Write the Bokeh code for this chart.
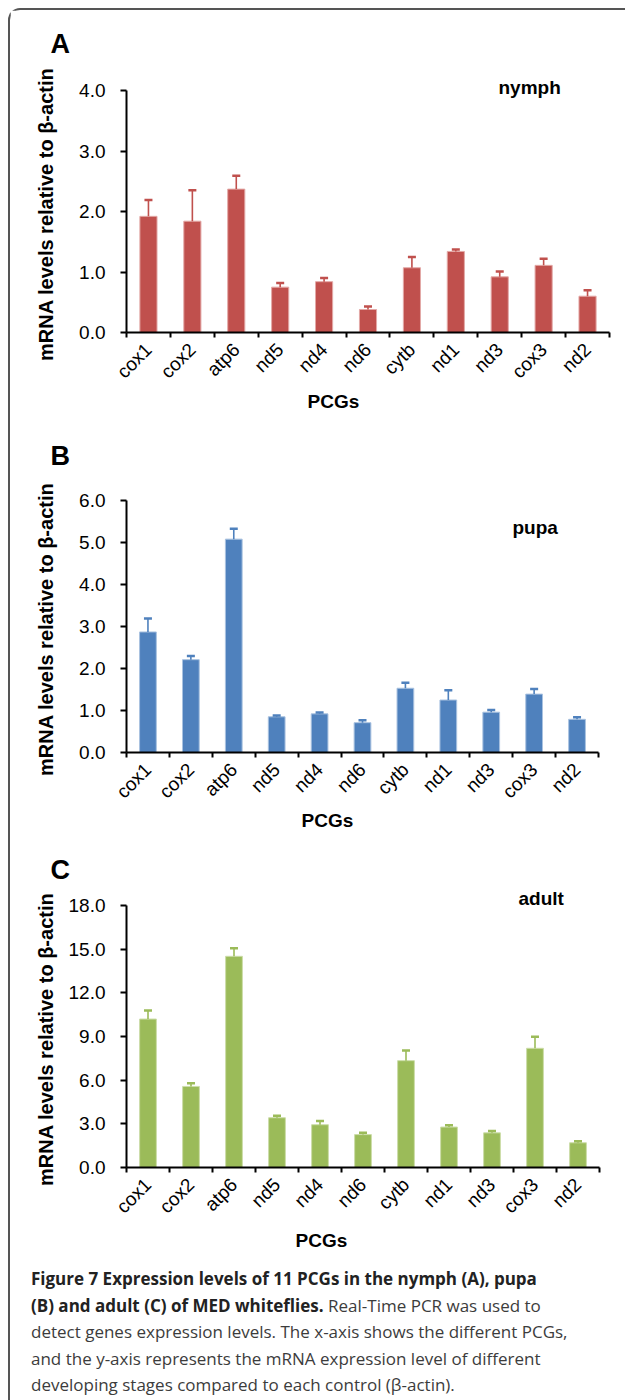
import math
from bokeh.plotting import figure
from bokeh.models import (ColumnDataSource, Whisker, TeeHead, Label, FixedTicker,
                          NumeralTickFormatter, LinearAxis, Range1d, Title, Div)
from bokeh.layouts import column
from bokeh.embed import file_html
from bokeh.resources import INLINE

# ---------------- data ----------------
genes = ["cox1", "cox2", "atp6", "nd5", "nd4", "nd6", "cytb", "nd1", "nd3", "cox3", "nd2"]

nymph_mean = [1.92, 1.84, 2.37, 0.75, 0.84, 0.38, 1.07, 1.34, 0.92, 1.11, 0.60]
nymph_err = [0.27, 0.51, 0.22, 0.07, 0.06, 0.05, 0.18, 0.03, 0.09, 0.11, 0.10]

pupa_mean = [2.87, 2.21, 5.08, 0.85, 0.92, 0.71, 1.53, 1.25, 0.96, 1.39, 0.79]
pupa_err = [0.32, 0.09, 0.25, 0.03, 0.03, 0.06, 0.13, 0.23, 0.05, 0.12, 0.05]

adult_mean = [10.20, 5.57, 14.51, 3.42, 2.94, 2.26, 7.34, 2.78, 2.38, 8.19, 1.70]
adult_err = [0.58, 0.21, 0.55, 0.14, 0.25, 0.12, 0.69, 0.12, 0.12, 0.80, 0.11]

nymph_ticks = [0.0, 1.0, 2.0, 3.0, 4.0]
pupa_ticks = [0.0, 1.0, 2.0, 3.0, 4.0, 5.0, 6.0]
adult_ticks = [0.0, 3.0, 6.0, 9.0, 12.0, 15.0, 18.0]

y_title = "mRNA  levels relative to \u03b2-actin"
x_title = "PCGs"

caption_bold = ["Figure 7 Expression levels of 11 PCGs in the nymph (A), pupa",
                "(B) and adult (C) of MED whiteflies."]
caption_regular = ["Real-Time PCR was used to",
                   "detect genes expression levels. The x-axis shows the different PCGs,",
                   "and the y-axis represents the mRNA expression level of different",
                   "developing stages compared to each control (\u03b2-actin)."]

FONT = "Liberation Sans"


def panel(letter, stage, mean, err, ticks, color, edge, frame_w, frame_h,
          mb_top, mb_bottom, stage_offset, stage_standoff, stage_label_y,
          spacer_standoff, pcgs_offset, pcgs_standoff, ylabel_standoff):
    xs = [i + 0.5 for i in range(len(genes))]
    src = ColumnDataSource(dict(x=xs, gene=genes, top=mean,
                                upper=[m + e for m, e in zip(mean, err)]))
    p = figure(frame_width=frame_w, frame_height=frame_h,
               x_range=Range1d(0, len(genes)), y_range=Range1d(ticks[0], ticks[-1]),
               x_axis_type=None, y_axis_type=None,
               output_backend="svg", toolbar_location=None,
               min_border_left=116, min_border_right=615 - 116 - frame_w,
               min_border_top=mb_top, min_border_bottom=mb_bottom)
    p.outline_line_color = None
    p.background_fill_color = "white"
    p.border_fill_color = "white"

    p.vbar(x="x", top="top", bottom=0, width=0.39, source=src,
           fill_color=color, line_color=edge, line_width=1)
    w = Whisker(source=src, base="x", upper="upper", lower="top",
                line_color=color, line_width=1.6,
                upper_head=TeeHead(size=8, line_color=color, line_width=2.5),
                lower_head=None, level="glyph")
    p.add_layout(w)

    xaxis = LinearAxis(ticker=FixedTicker(ticks=xs, minor_ticks=list(range(len(genes) + 1))),
                       major_label_overrides={x: g for x, g in zip(xs, genes)})
    xaxis.major_tick_out = 0
    xaxis.major_tick_in = 0
    xaxis.minor_tick_out = 5
    xaxis.minor_tick_in = 0
    xaxis.minor_tick_line_width = 2
    xaxis.minor_tick_line_color = "black"
    xaxis.axis_line_width = 2
    xaxis.axis_line_color = "black"
    xaxis.major_label_orientation = math.pi / 4
    xaxis.major_label_text_font = FONT
    xaxis.major_label_text_font_size = "19px"
    xaxis.major_label_text_color = "black"
    xaxis.major_label_standoff = 9
    p.add_layout(xaxis, "below")

    yaxis = LinearAxis(ticker=FixedTicker(ticks=ticks),
                       formatter=NumeralTickFormatter(format="0.0"),
                       axis_label=y_title)
    yaxis.major_tick_out = 6
    yaxis.major_tick_in = 0
    yaxis.major_tick_line_width = 2
    yaxis.axis_line_width = 2
    yaxis.axis_line_color = "black"
    yaxis.major_label_text_font = FONT
    yaxis.major_label_text_font_size = "19px"
    yaxis.major_label_text_color = "black"
    yaxis.major_label_standoff = 15
    yaxis.axis_label_text_font = FONT
    yaxis.axis_label_text_font_size = "20px"
    yaxis.axis_label_text_font_style = "bold"
    yaxis.axis_label_text_color = "black"
    yaxis.axis_label_standoff = ylabel_standoff
    p.add_layout(yaxis, "left")

    # stage name: title straddling the frame top, or a label inside the frame
    if stage_label_y is None:
        p.add_layout(Title(text=stage, align="left", offset=stage_offset,
                           standoff=stage_standoff, text_font=FONT,
                           text_font_style="bold", text_font_size="19px",
                           text_color="black"), "above")
    else:
        p.add_layout(Label(x=stage_offset, y=stage_label_y, x_units="screen", y_units="screen",
                           text=stage, text_font=FONT, text_font_style="bold",
                           text_font_size="19px", text_color="black",
                           text_baseline="alphabetic"))
    # spacer then panel letter
    p.add_layout(Title(text=" ", text_font_size="1px", standoff=spacer_standoff), "above")
    p.add_layout(Title(text=letter, align="left", offset=-76, standoff=0,
                       text_font=FONT, text_font_style="bold", text_font_size="27px",
                       text_color="black"), "above")
    p.add_layout(Title(text=x_title, align="left", offset=pcgs_offset, standoff=pcgs_standoff,
                       text_font=FONT, text_font_style="bold", text_font_size="19px",
                       text_color="black"), "below")
    return p


# frame tops (axis top) in page px: A 90, B 500, C 905
pA = panel("A", "nymph", nymph_mean, nymph_err, nymph_ticks, "#C0504D", "#E3A9A7",
           483, 242, 80, 90, 372, -14, None, 20, 181, -7, 19)
pB = panel("B", "pupa", pupa_mean, pupa_err, pupa_ticks, "#4F81BD", "#A9C2E0",
           472, 252, 78, 89, 386, 0, 225, 27, 175, -10, 19)
pC = panel("C", "adult", adult_mean, adult_err, adult_ticks, "#9BBB59", "#CCDDA9",
           473, 262, 64, 88, 392, -6, None, 1, 169, 0, 9)

# caption
b1, b2 = caption_bold
r1, r2, r3, r4 = caption_regular
cap_html = ("<div style=\"padding:6px 0 0 16px;\">"
            "<span style=\"font-weight:bold;color:#222222;\">" + b1 + "</span><br>"
            "<span style=\"font-weight:bold;color:#222222;\">" + b2 + "</span> " + r1 + "<br>"
            + r2 + "<br>" + r3 + "<br>" + r4 + "</div>")
cap = Div(text=cap_html, width=615, height=135,
          styles={"font-family": "'Open Sans'", "font-size": "17px", "line-height": "26.5px",
                  "color": "#3c3c3c", "white-space": "nowrap", "overflow": "hidden"})

layout = column(pA, pB, pC, cap, spacing=0, margin=(8, 0, 0, 8),
                styles={"border-left": "2px solid #555555", "border-top": "2px solid #555555",
                        "border-top-left-radius": "12px"})

open("out.html", "w").write(file_html(layout, INLINE))
